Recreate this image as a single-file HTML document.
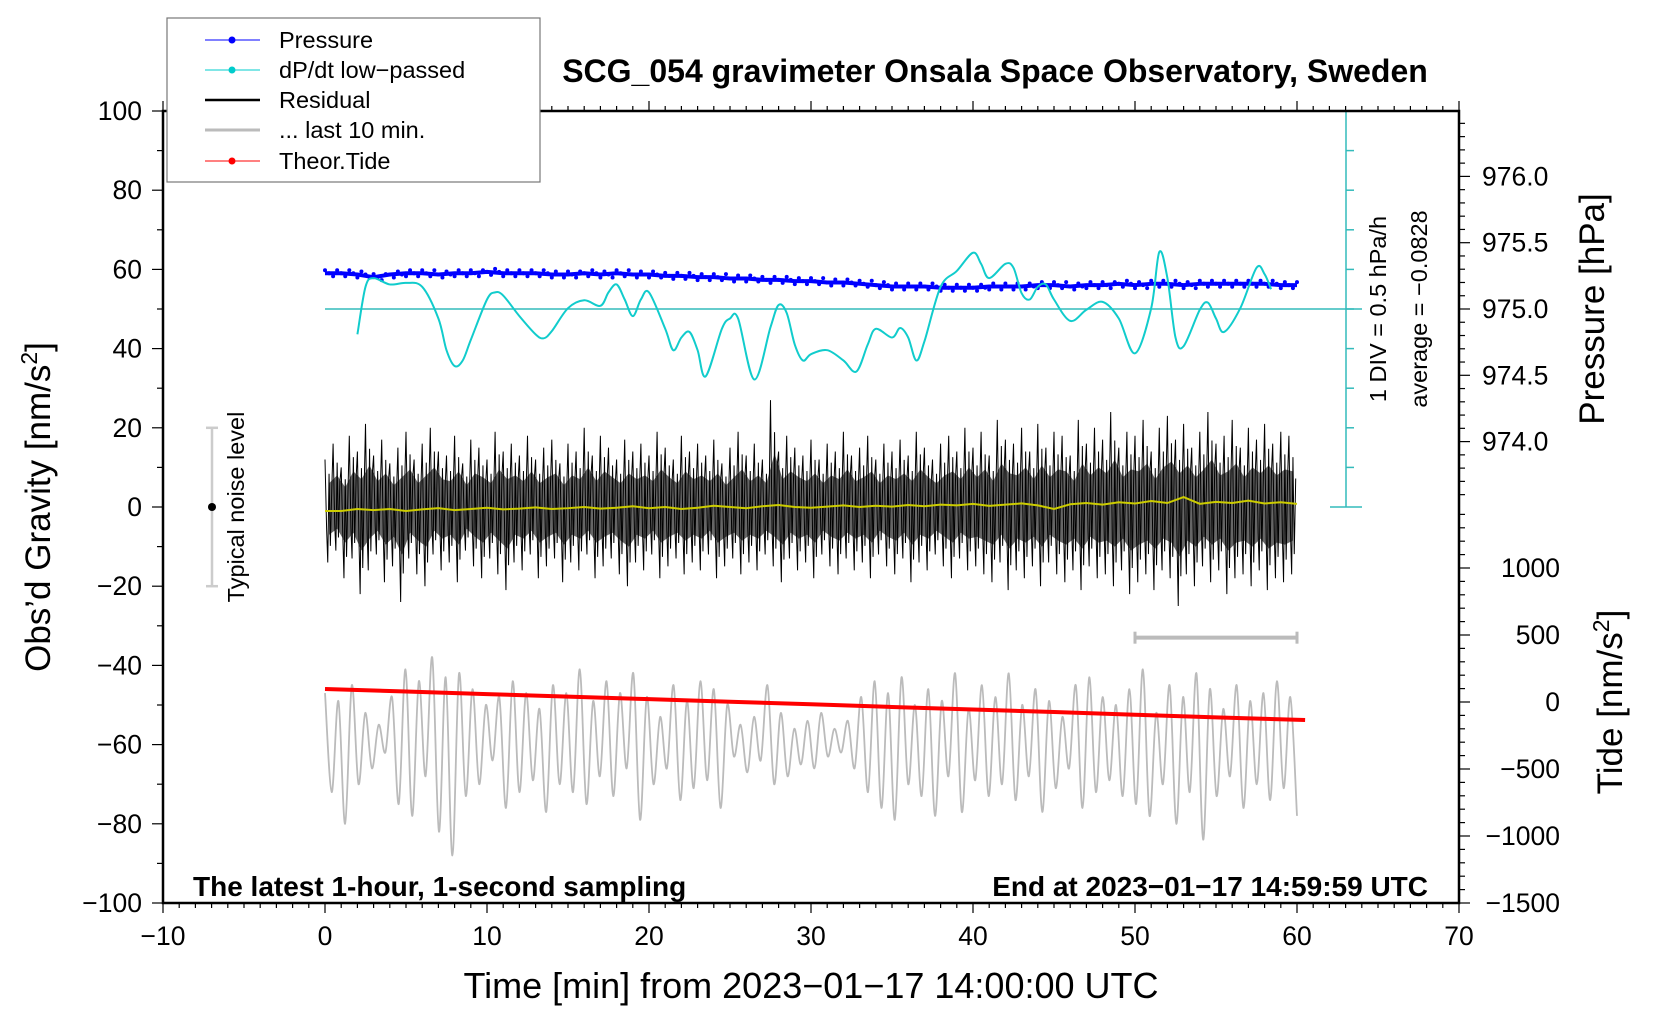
<!DOCTYPE html>
<html><head><meta charset="utf-8"><style>
html,body{margin:0;padding:0;background:#fff}
svg{display:block;font-family:"Liberation Sans",sans-serif}
</style></head><body>
<svg id="chart" width="1660" height="1020" viewBox="0 0 1660 1020">
<rect x="0" y="0" width="1660" height="1020" fill="#fff"/>
<g id="marks"></g>
<g id="axes"></g>
<rect x="163" y="111" width="1296" height="792" fill="none" stroke="#000" stroke-width="2.5"/>
<text x="995" y="82" font-size="32" font-weight="bold" text-anchor="middle">SCG_054 gravimeter Onsala Space Observatory, Sweden</text>
<text x="193" y="896" font-size="28" font-weight="bold">The latest 1-hour, 1-second sampling</text>
<text x="1428" y="896" font-size="28" font-weight="bold" text-anchor="end">End at 2023−01−17 14:59:59 UTC</text>
<text x="0" y="0" font-size="35" text-anchor="middle" transform="translate(50,507) rotate(-90)">Obs’d Gravity [nm/s<tspan font-size="23" dy="-13">2</tspan><tspan dy="13">]</tspan></text>
<text x="811" y="998" font-size="36" text-anchor="middle">Time [min] from 2023−01−17 14:00:00 UTC</text>
<text x="0" y="0" font-size="35" text-anchor="middle" transform="translate(1604,309) rotate(-90)">Pressure [hPa]</text>
<text x="0" y="0" font-size="35" text-anchor="middle" transform="translate(1622,702) rotate(-90)">Tide [nm/s<tspan font-size="23" dy="-13">2</tspan><tspan dy="13">]</tspan></text>
<text x="0" y="0" font-size="23.5" text-anchor="middle" transform="translate(1386,309) rotate(-90)">1 DIV = 0.5 hPa/h</text>
<text x="0" y="0" font-size="23.5" text-anchor="middle" transform="translate(1427,309) rotate(-90)">average = −0.0828</text>
<text x="0" y="0" font-size="23.5" text-anchor="middle" transform="translate(244,507) rotate(-90)">Typical noise level</text>
<g>
<rect x="167" y="18" width="373" height="164" fill="#fff" stroke="#777" stroke-width="1.2"/>
<g><line x1="205" y1="40" x2="260" y2="40" stroke="#00f" stroke-width="1"/><circle cx="232" cy="40" r="3.5" fill="#00f"/><text x="279" y="48" font-size="23.5">Pressure</text></g>
<g><line x1="205" y1="70" x2="260" y2="70" stroke="#0cc" stroke-width="1"/><circle cx="232" cy="70" r="3.5" fill="#0cc"/><text x="279" y="78" font-size="23.5">dP/dt low−passed</text></g>
<g><line x1="205" y1="100" x2="260" y2="100" stroke="#000" stroke-width="2.5"/><text x="279" y="108" font-size="23.5">Residual</text></g>
<g><line x1="205" y1="130" x2="260" y2="130" stroke="#bbb" stroke-width="3"/><text x="279" y="138" font-size="23.5">... last 10 min.</text></g>
<g><line x1="205" y1="161" x2="260" y2="161" stroke="#f00" stroke-width="1"/><circle cx="232" cy="161" r="3.5" fill="#f00"/><text x="279" y="169" font-size="23.5">Theor.Tide</text></g>
</g>
</svg>
<script>
// ---- data ----
const resMax = [12,16,10,18,14,21,13,17,11,15,19,12,16,20,14,13,18,11,17,15,
12,19,14,16,13,18,12,15,17,11,16,14,20,13,18,15,12,17,14,16,
13,19,15,12,18,14,16,13,17,11,15,19,13,16,12,27,14,18,15,13,
17,12,16,14,19,13,15,18,12,16,14,17,13,19,15,12,16,18,14,20,
15,19,13,22,17,16,20,14,21,15,19,18,13,22,16,20,17,24,15,19,
18,22,14,20,23,17,21,15,19,24,16,18,22,15,20,17,21,16,19,18];
const resMin = [-14,-11,-18,-13,-22,-16,-12,-19,-15,-24,-13,-17,-20,-12,-16,-14,-19,-11,-15,-18,
-13,-17,-21,-14,-16,-12,-18,-15,-13,-19,-14,-16,-12,-18,-15,-13,-17,-20,-14,-16,
-12,-18,-15,-13,-17,-14,-16,-12,-18,-15,-13,-17,-14,-16,-12,-15,-19,-13,-16,-14,
-18,-12,-15,-17,-13,-16,-14,-18,-12,-15,-17,-13,-19,-14,-16,-12,-15,-18,-13,-16,
-15,-17,-19,-14,-21,-16,-18,-15,-20,-14,-17,-19,-16,-21,-15,-18,-17,-20,-16,-22,
-19,-17,-21,-16,-18,-25,-17,-20,-15,-19,-16,-22,-18,-17,-20,-16,-21,-18,-19,-17];
const last10 = [-47,-72,-49,-80,-45,-70,-52,-66,-55,-62,-48,-75,-41,-78,-44,-68,-38,-82,-43,-88,
-42,-73,-46,-70,-50,-64,-48,-76,-44,-72,-47,-69,-51,-77,-45,-70,-47,-72,-41,-75,
-49,-68,-44,-73,-47,-66,-42,-79,-48,-70,-53,-66,-45,-74,-49,-71,-44,-69,-46,-76,
-50,-63,-55,-67,-53,-64,-45,-70,-52,-68,-56,-65,-54,-66,-52,-63,-56,-62,-54,-66,
-48,-72,-44,-76,-47,-79,-43,-70,-50,-73,-46,-78,-49,-68,-42,-77,-51,-69,-45,-73,
-48,-70,-42,-74,-50,-68,-46,-77,-49,-71,-53,-66,-45,-76,-43,-72,-48,-69,-50,-73,
-46,-75,-41,-78,-52,-70,-45,-80,-48,-72,-42,-84,-46,-73,-51,-68,-45,-76,-49,-70,
-47,-74,-44,-71,-48,-78];
const pressure = [975.27,975.27,975.26,975.24,975.26,975.27,975.27,975.26,975.27,975.27,
975.28,975.27,975.27,975.27,975.26,975.26,975.27,975.26,975.27,975.26,
975.26,975.25,975.25,975.24,975.24,975.23,975.23,975.22,975.22,975.21,
975.21,975.20,975.20,975.19,975.18,975.17,975.17,975.17,975.16,975.16,
975.16,975.17,975.17,975.17,975.18,975.18,975.17,975.18,975.18,975.19,
975.18,975.19,975.19,975.18,975.19,975.19,975.19,975.19,975.19,975.18,975.18];
const dpT = [2,2.5,3,4,5,6,7,7.5,8,8.5,9,10,10.5,11,12,13,13.5,14,15,16,17,17.5,18,18.5,19,19.5,20,21,21.5,22,22.5,23,23.5,24.5,25,25.5,26.5,27.5,28,28.5,29,29.5,30,31,32,32.8,33.5,34,35,35.5,36,36.5,37,38,39,40,40.5,41,42,42.5,43,43.5,44,44.5,45,46,47,48,49,50,51,51.5,52,52.5,53,54,54.5,55,55.5,56.5,57.5,58,58.4];
const dpV = [-0.32,0.28,0.39,0.31,0.33,0.28,-0.12,-0.52,-0.72,-0.65,-0.39,0.12,0.21,0.17,-0.09,-0.32,-0.37,-0.28,0.01,0.11,0.04,0.21,0.31,0.12,-0.09,0.12,0.21,-0.25,-0.52,-0.36,-0.29,-0.52,-0.85,-0.25,-0.12,-0.12,-0.89,-0.23,0.05,-0.05,-0.45,-0.65,-0.57,-0.52,-0.65,-0.79,-0.45,-0.25,-0.36,-0.24,-0.36,-0.65,-0.41,0.28,0.48,0.71,0.57,0.39,0.57,0.52,0.20,0.12,0.28,0.31,0.12,-0.15,-0.01,0.09,-0.12,-0.56,0.01,0.72,0.39,-0.36,-0.47,-0.01,0.08,-0.12,-0.29,0.01,0.52,0.44,0.25];
const smoothRes = [-1,-1,-0.5,-0.8,-0.5,-1,-0.6,-0.3,-0.8,-0.5,-0.2,-0.6,-0.4,-0.1,-0.5,-0.3,0,-0.4,-0.2,0.2,-0.3,0,-0.5,-0.2,0.3,0,-0.3,0.2,0.5,0,-0.2,0.1,0.4,0,0.3,0.1,0.5,0.2,0.6,0.4,0.8,0.3,0.6,0.9,0.4,-0.5,0.7,1.0,0.6,1.2,0.9,1.5,1.0,2.5,0.8,1.3,1.0,1.6,0.9,1.2,0.8];
const tideT = [0,5,10,15,20,25,30,35,40,45,50,55,60.5];
const tideV = [97,78,59,40,21,2,-17,-37,-56,-75,-95,-115,-134];
const xTicks = [-10,0,10,20,30,40,50,60,70];
const yTicks = [100,80,60,40,20,0,-20,-40,-60,-80,-100];
const pTicks = ["976.0","975.5","975.0","974.5","974.0"];
const tideTicks = [1000,500,0,-500,-1000,-1500];
const dpPerDiv = 0.5;

// ---- scales ----
const X = t => 163 + (t + 10) * 16.2;
const Y = g => 507 - g * 3.96;
const YP = p => 309 - (p - 975.0) * 132.6;
const YT = v => 702 - v * 0.134;
const YD = v => 309 - v / dpPerDiv * 39.6;
const NS = 'http://www.w3.org/2000/svg';
const marks = document.getElementById('marks');
const axes = document.getElementById('axes');
function mk(tag, parent, attrs){const e=document.createElementNS(NS,tag);for(const k in attrs)e.setAttribute(k,attrs[k]);parent.appendChild(e);return e;}
function smoothPath(P){let d='M'+P[0][0]+','+P[0][1];
 for(let i=0;i<P.length-1;i++){const p0=P[Math.max(0,i-1)],p1=P[i],p2=P[i+1],p3=P[Math.min(P.length-1,i+2)];
  d+=' C'+(p1[0]+(p2[0]-p0[0])/6)+','+(p1[1]+(p2[1]-p0[1])/6)+' '+(p2[0]-(p3[0]-p1[0])/6)+','+(p2[1]-(p3[1]-p1[1])/6)+' '+p2[0]+','+p2[1];}
 return d;}

// ---- axes ----
for(let t=-10;t<=70;t++){const major=t%10===0;const l=major?10:5;
 mk('line',axes,{x1:X(t),x2:X(t),y1:903,y2:903+l,stroke:'#000','stroke-width':1.2});
 mk('line',axes,{x1:X(t),x2:X(t),y1:111,y2:111-l,stroke:'#000','stroke-width':1.2});}
xTicks.forEach(t=>{const e=mk('text',axes,{x:X(t),y:945,'font-size':26.5,'text-anchor':'middle'});e.textContent=String(t).replace('-','−');
 
 });
for(let g=-100;g<=100;g+=10){const l=g%20===0?11:6;mk('line',axes,{x1:163-l,x2:163,y1:Y(g),y2:Y(g),stroke:'#000','stroke-width':1.2});}
yTicks.forEach(g=>{const e=mk('text',axes,{x:142,y:Y(g)+9,'font-size':26.5,'text-anchor':'end'});e.textContent=String(g).replace('-','−');
 
 });
for(let i=0;i<=29;i++){const p=976.4-i*0.1;const y=YP(p);if(y<111||y>507)continue;const major=Math.abs(Math.round(p*10)%5)===0;
 mk('line',axes,{x1:1459,x2:1459+(major?11:6),y1:y,y2:y,stroke:'#000','stroke-width':1.2});}
pTicks.forEach(s=>{const e=mk('text',axes,{x:1482,y:YP(parseFloat(s))+9,'font-size':26.5});e.textContent=s;
 
 });
for(let v=1400;v>=-1500;v-=100){const y=YT(v);if(y<507)continue;mk('line',axes,{x1:1459,x2:1459+(v%500===0?11:6),y1:y,y2:y,stroke:'#000','stroke-width':1.2});}
tideTicks.forEach(v=>{const e=mk('text',axes,{x:1560,y:YT(v)+9,'font-size':26.5,'text-anchor':'end'});e.textContent=String(v).replace('-','−');
 
 });

// dP/dt scale bar
const sb=mk('g',marks,{});


mk('line',sb,{x1:1346,x2:1346,y1:YD(5*dpPerDiv),y2:YD(-5*dpPerDiv),stroke:'#3bb',"stroke-width":1.5});
for(let d=-5;d<=5;d++){const end=(d===5||d===-5);mk('line',sb,{x1:end?1330:1346,x2:end?1362:1354,y1:YD(d*dpPerDiv),y2:YD(d*dpPerDiv),stroke:'#3bb','stroke-width':1.5});}
mk('line',marks,{x1:X(0),x2:1362,y1:YD(0),y2:YD(0),stroke:'#3bb','stroke-width':1.5});

// noise level bar
const nb=mk('g',marks,{});


mk('line',nb,{x1:212,x2:212,y1:Y(20),y2:Y(-20),stroke:'#ccc','stroke-width':2.5});
mk('line',nb,{x1:206,x2:218,y1:Y(20),y2:Y(20),stroke:'#ccc','stroke-width':2.5});
mk('line',nb,{x1:206,x2:218,y1:Y(-20),y2:Y(-20),stroke:'#ccc','stroke-width':2.5});
mk('circle',nb,{cx:212,cy:Y(0),r:4,fill:'#000'});

// last-10-min window bar
const wb=mk('g',marks,{});


mk('line',wb,{x1:X(50),x2:X(60),y1:Y(-33),y2:Y(-33),stroke:'#bbb','stroke-width':4});
mk('line',wb,{x1:X(50),x2:X(50),y1:Y(-33)-6,y2:Y(-33)+6,stroke:'#bbb','stroke-width':3});
mk('line',wb,{x1:X(60),x2:X(60),y1:Y(-33)-6,y2:Y(-33)+6,stroke:'#bbb','stroke-width':3});

// last 10 min gray
const step10 = 60/(last10.length-1);
const g10=mk('path',marks,{d:smoothPath(last10.map((v,i)=>[X(i*step10),Y(v)])),fill:'none',stroke:'#bbb','stroke-width':1.8});



// residual
let rp=[];resMax.forEach((v,i)=>{const t=i*0.5;rp.push(X(t)+','+Y(v));rp.push(X(t+0.1)+','+Y(resMin[i]*0.4));rp.push(X(t+0.17)+','+Y(resMin[i]));rp.push(X(t+0.25)+','+Y(v*0.7));rp.push(X(t+0.33)+','+Y(resMin[i]*0.7));rp.push(X(t+0.42)+','+Y(v*0.4));});
const rl=mk('polyline',marks,{points:rp.join(' '),fill:'none',stroke:'#000','stroke-width':1});


let rf=[];resMax.forEach((v,i)=>rf.push(X(i*0.5+0.25)+','+Y(v*0.5)));for(let i=resMin.length-1;i>=0;i--)rf.push(X(i*0.5+0.25)+','+Y(resMin[i]*0.5));
mk('polygon',marks,{points:rf.join(' '),fill:'#000','fill-opacity':0.6});

// smoothed residual yellow
const yl=mk('polyline',marks,{points:smoothRes.map((v,i)=>X(i)+','+Y(v)).join(' '),fill:'none',stroke:'#cc0','stroke-width':2});



// tide
const tl=mk('polyline',marks,{points:tideV.map((v,i)=>X(tideT[i])+','+YT(v)).join(' '),fill:'none',stroke:'#f00','stroke-width':4});



// pressure
const pl=mk('polyline',marks,{points:pressure.map((v,i)=>X(i)+','+YP(v)).join(' '),fill:'none',stroke:'#00f','stroke-width':4,'stroke-linejoin':'round'});


pressure.forEach((v,i)=>{for(let k=0;k<4;k++){if(i+k*0.25>60)break;const c=mk('circle',marks,{cx:X(i+k*0.25),cy:YP(v)+((i+k)%3-1)*3,r:2,fill:'#00f'});
 
 }});

// dP/dt smooth curve
const dl=mk('path',marks,{d:smoothPath(dpT.map((t,i)=>[X(t),YD(dpV[i])])),fill:'none',stroke:'#1cc','stroke-width':2});


</script>
</body></html>
